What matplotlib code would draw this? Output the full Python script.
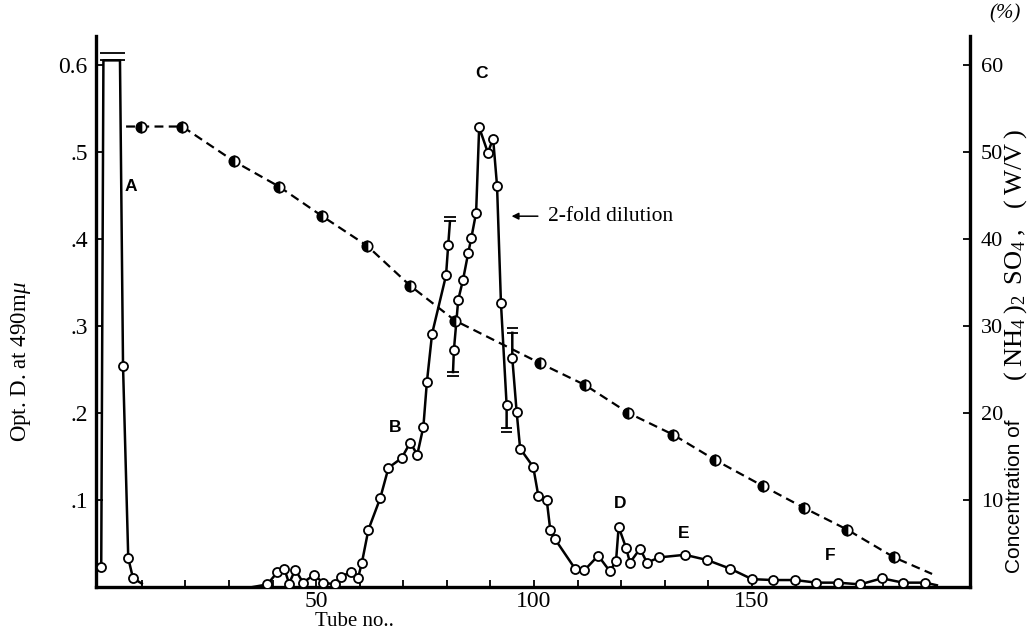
import matplotlib
matplotlib.use("Agg")
import matplotlib.pyplot as plt
import numpy as np

# ---------------- data ----------------
# Peak A (off-scale top, drawn up to the 0.6 limit)
a_tube = [0.7, 1.2, 5.0, 5.7, 6.9, 8.0, 10.0]
a_od = [0.023, 0.605, 0.605, 0.254, 0.033, 0.010, 0.004]
a_mark = [True, False, False, True, True, True, False]

# Segment 1: small humps and peak B (undiluted)
s1_tube = [35.5, 38.8, 41.1, 42.7, 43.8, 45.2, 47.0, 49.5, 51.6, 54.4, 55.7, 58.0,
           59.6, 60.5, 62.0, 64.7, 66.6, 69.6, 71.6, 73.2, 74.6, 75.4, 76.6,
           79.8, 80.3, 80.7]
s1_od = [0.0, 0.003, 0.017, 0.021, 0.004, 0.020, 0.005, 0.014, 0.005, 0.003, 0.012, 0.017,
         0.010, 0.028, 0.066, 0.102, 0.137, 0.148, 0.166, 0.152, 0.184, 0.235, 0.291,
         0.358, 0.393, 0.420]
s1_mark = [False] + [True] * 24 + [False]

# Segment 2: peak C (2-fold dilution)
s2_tube = [81.4, 81.6, 82.6, 83.7, 84.9, 85.6, 86.7, 87.4, 89.4, 90.6, 91.5, 92.4, 93.7, 93.7]
s2_od = [0.247, 0.272, 0.330, 0.353, 0.384, 0.401, 0.430, 0.528, 0.499, 0.515, 0.461,
         0.326, 0.209, 0.183]
s2_mark = [False] + [True] * 12 + [False]

# Segment 3: tail with D, E, F
s3_tube = [95.0, 95.0, 96.0, 96.8, 99.8, 101.0, 102.9, 103.7, 104.8, 109.4, 111.5, 114.7,
           117.4, 118.8, 119.4, 121.1, 122.0, 124.3, 125.9, 128.7, 134.6, 139.7, 145.0,
           150.0, 154.8, 159.9, 164.7, 169.7, 174.8, 179.8, 184.6, 189.7, 192.4]
s3_od = [0.292, 0.263, 0.201, 0.159, 0.138, 0.104, 0.100, 0.066, 0.055, 0.021, 0.019, 0.036,
         0.018, 0.030, 0.069, 0.045, 0.028, 0.044, 0.028, 0.034, 0.037, 0.031, 0.021,
         0.009, 0.008, 0.008, 0.005, 0.005, 0.003, 0.010, 0.005, 0.005, 0.002]
s3_mark = [False] + [True] * 31 + [False]

# Dilution break marks (double bars)
brk_tube = [80.7, 81.4, 93.7, 95.0]
brk_od = [0.420, 0.247, 0.183, 0.292]
brk_dir = [1, -1, -1, 1]

# Ammonium sulfate concentration (%)
salt_tube = [6.4, 9.9, 19.3, 31.2, 41.5, 51.4, 61.7, 71.6, 81.9, 101.4, 111.7, 121.6,
             131.9, 141.5, 152.5, 161.9, 171.8, 182.6, 191.3]
salt_pct = [52.9, 52.9, 52.9, 48.9, 46.0, 42.6, 39.2, 34.6, 30.6, 25.7, 23.2, 20.0,
            17.5, 14.6, 11.6, 9.1, 6.6, 3.4, 1.5]

peak_labels = ["A", "B", "C", "D", "E", "F"]
peak_label_x = [7.6, 68.1, 88.0, 119.7, 134.4, 168.0]
peak_label_y = [0.46, 0.183, 0.59, 0.096, 0.062, 0.036]

left_ticks = [0.1, 0.2, 0.3, 0.4, 0.5, 0.6]
left_ticklabels = [".1", ".2", ".3", ".4", ".5", "0.6"]
right_ticks = [10, 20, 30, 40, 50, 60]
x_ticks = list(range(10, 200, 10))
x_labelled = [50, 100, 150]

# ---------------- figure ----------------
serif = 'Liberation Serif'
sans = 'Liberation Sans'
plt.rcParams['mathtext.fontset'] = 'custom'
plt.rcParams['mathtext.rm'] = serif
plt.rcParams['mathtext.it'] = serif + ':italic'
plt.rcParams['mathtext.sf'] = sans

fig = plt.figure(figsize=(10.34, 6.32), dpi=100)
ax = fig.add_axes([96 / 1034, 45 / 632, 874 / 1034, 551 / 632])
ax.set_xlim(-0.5, 200)
ax.set_ylim(0, 0.633)

LW = 1.8
mk = dict(marker='o', ms=6.5, mfc='white', mec='black', mew=1.3)


def draw(t, v, m):
    t = np.asarray(t); v = np.asarray(v); m = np.asarray(m)
    ax.plot(t, v, color='black', lw=LW, zorder=3, solid_joinstyle='round')
    ax.plot(t[m], v[m], ls='none', zorder=4, **mk)


draw(a_tube, a_od, a_mark)
draw(s1_tube, s1_od, s1_mark)
draw(s2_tube, s2_od, s2_mark)
draw(s3_tube, s3_od, s3_mark)

# double bars
for t, v, d in zip(brk_tube, brk_od, brk_dir):
    ax.hlines([v, v + d * 0.005], t - 1.3, t + 1.3, color='black', lw=1.3, zorder=4)
ax.hlines([a_od[1], a_od[1] + 0.009], 0.5, 6.2, color='black', lw=1.3, zorder=4)

# salt line on twin axis
ax2 = ax.twinx()
ax2.set_ylim(0, 63.3)
ax2.plot(salt_tube, salt_pct, color='black', lw=1.6, ls=(0, (4, 2.4)), zorder=2,
         marker='o', ms=7.5, markevery=list(range(1, len(salt_tube) - 1)),
         fillstyle='left', mfc='black', mfcalt='white', mec='black', mew=1.2)

# spines
for a in (ax, ax2):
    a.spines['top'].set_visible(False)
ax.spines['right'].set_visible(False)
ax2.spines['left'].set_visible(False)
ax2.spines['bottom'].set_visible(False)
for s in ('left', 'bottom'):
    ax.spines[s].set_linewidth(2.4)
ax2.spines['right'].set_linewidth(2.4)

# ticks
ax.set_xticks(x_ticks)
ax.set_xticklabels([str(x) if x in x_labelled else "" for x in x_ticks],
                   fontfamily=serif, fontsize=17)
ax.set_yticks(left_ticks)
ax.set_yticklabels(left_ticklabels, fontfamily=serif, fontsize=17)
ax.tick_params(axis='both', direction='in', length=5, width=1.3, pad=6)
ax.tick_params(axis='x', pad=3)
ax2.set_yticks(right_ticks)
ax2.set_yticklabels([str(v) for v in right_ticks], fontfamily=serif, fontsize=16)
ax2.tick_params(axis='y', direction='in', length=5, width=1.3, pad=8)

# axis labels
ax.set_xlabel("Tube no..", fontfamily=serif, fontsize=15, labelpad=0)
ax.xaxis.set_label_coords(258 / 874, -0.045)
ax.set_ylabel(r"Opt. D. at 490m$\mu$", fontfamily=serif, fontsize=16.5)
ax.yaxis.set_label_coords(-63 / 874, (587 - 362) / 551)

fig.text(1015 / 1034, 1 - 496 / 632, "Concentration of", fontfamily=sans,
         fontsize=15, rotation=90, ha='center', va='center')
fig.text(1016 / 1034, 1 - 255 / 632,
         r"$\mathrm{(\;NH_4\;)_2\;\;SO_4\;,\;\;\;(\;W/V\;)}$",
         fontsize=19, rotation=90, ha='center', va='center')
fig.text(1005 / 1034, 1 - 14 / 632, "(%)", fontfamily=serif, fontsize=15,
         ha='center', va='center', style='italic')

# peak labels
for lab, x, y in zip(peak_labels, peak_label_x, peak_label_y):
    ax.text(x, y, lab, fontfamily=sans, fontsize=12.5, fontweight='bold',
            ha='center', va='center')

# dilution annotation
ax.annotate("", xy=(94.2, 0.426), xytext=(101.5, 0.426),
            arrowprops=dict(arrowstyle='-|>', color='black', lw=1.1,
                            mutation_scale=10))
ax.text(103.2, 0.426, "2-fold dilution", fontfamily=serif, fontsize=15.5,
        ha='left', va='center')

fig.savefig("out.png", dpi=100)
